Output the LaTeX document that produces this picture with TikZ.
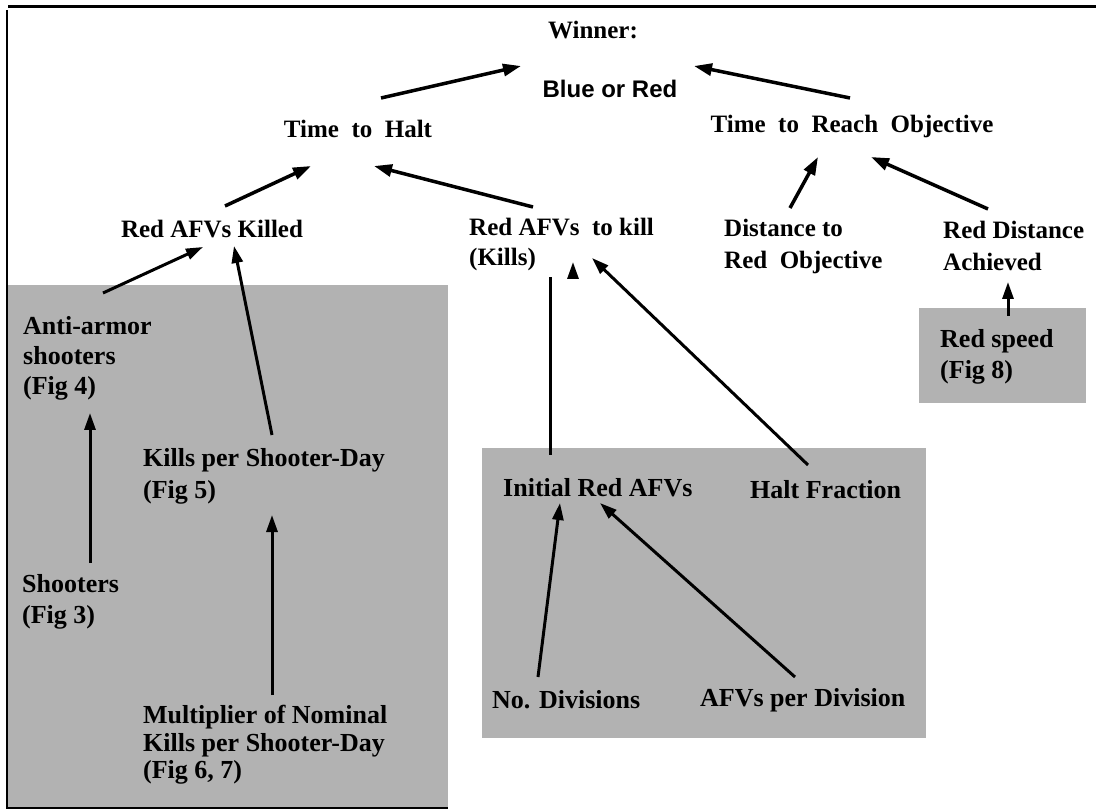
\documentclass[tikz,border=0pt]{standalone}
\usepackage{fontspec}
\setmainfont{Liberation Serif}
\newfontfamily\arialf{Liberation Sans}
\usetikzlibrary{arrows.meta}
\begin{document}
\begin{tikzpicture}[x=1pt,y=-1pt,
  lbl/.style={font=\bfseries\fontsize{25}{30}\selectfont, inner sep=0pt, align=left},
  gl/.style={font=\bfseries\fontsize{26}{30}\selectfont, inner sep=0pt, align=left, anchor=west},
  arr/.style={line width=3.5pt, -{Triangle[length=18pt,width=12pt]}},
  thinarr/.style={line width=3pt, -{Triangle[length=17pt,width=11pt]}},
  shadebox/.style={fill=black!30, draw=none}]
\useasboundingbox (0,0) rectangle (1096,810);
% frame
\draw[line width=3pt] (8,6.5) -- (1096,6.5);
\draw[line width=2pt] (7,10) -- (7,808) -- (448,808);
% shaded areas
\fill[shadebox] (8,285) rectangle (448,807);
\fill[shadebox] (482,448) rectangle (926,738);
\fill[shadebox] (919,308) rectangle (1086,403);
% top labels
\node[lbl] (win) at (593,30) {Winner:};
\node[font=\arialf\bfseries\fontsize{24}{28}\selectfont, inner sep=0pt] (bor) at (610,89) {Blue or Red};
\node[lbl] (tth) at (358,129) {Time\ \ to\ \ Halt};
\node[lbl] (tro) at (852,126) {Time\ \ to\ \ Reach\ \ Objective};
\node[lbl] (rak) at (212,229) {Red AFVs Killed};
\node[lbl, anchor=west] (rtk) at (469,244) {Red AFVs\ \ to kill\\(Kills)};
\node[lbl, anchor=west, font=\bfseries\fontsize{25}{32}\selectfont] (dro) at (724,246) {Distance to\\Red\ \ Objective};
\node[lbl, anchor=west, font=\bfseries\fontsize{25}{32}\selectfont] (rda) at (943,246) {Red Distance\\Achieved};
% shaded labels
\node[gl] (aas) at (23,358) {Anti-armor\\shooters\\(Fig 4)};
\node[gl, font=\bfseries\fontsize{26}{31}\selectfont] (sho) at (22,602) {Shooters\\(Fig 3)};
\node[gl, font=\bfseries\fontsize{26}{32}\selectfont] (kps) at (143,476) {Kills per Shooter-Day\\(Fig 5)};
\node[gl, font=\bfseries\fontsize{26}{27.5}\selectfont] (mul) at (143,745) {Multiplier of Nominal\\Kills per Shooter-Day\\(Fig 6, 7)};
\node[gl] (ira) at (503,488) {Initial Red AFVs};
\node[gl] (hfr) at (750,490) {Halt Fraction};
\node[gl] (ndv) at (492,700) {No. Divisions};
\node[gl] (apd) at (700,700) {AFVs per Division};
\node[gl, font=\bfseries\fontsize{26}{31}\selectfont] (rsp) at (940,357) {Red speed\\(Fig 8)};
% connector end points
\coordinate (tthN) at (381,98);   \coordinate (winL) at (521,66);
\coordinate (troN) at (850,98);   \coordinate (winR) at (694,66);
\coordinate (rakN) at (225,206);  \coordinate (tthL) at (311,166);
\coordinate (rtkN) at (533,207);  \coordinate (tthR) at (374,166);
\coordinate (droN) at (790,208);  \coordinate (troL) at (818,157);
\coordinate (rdaN) at (988,209);  \coordinate (troR) at (871,157);
\coordinate (aasN) at (103,293);  \coordinate (rakL) at (203,247);
\coordinate (kpsN) at (272,435);  \coordinate (rakR) at (234,246);
\coordinate (shoN) at (90,563);   \coordinate (aasS) at (90,413);
\coordinate (mulN) at (272,695);  \coordinate (kpsS) at (272,515);
\coordinate (iraN) at (550,455);  \coordinate (rtkS) at (550,277);
\coordinate (rtkHb) at (573,278); \coordinate (rtkH) at (573,262);
\coordinate (hfrN) at (808,465);  \coordinate (rtkR) at (592,258);
\coordinate (ndvN) at (538,677);  \coordinate (iraS) at (560,503);
\coordinate (apdN) at (795,677);  \coordinate (iraR) at (600,503);
\coordinate (rspN) at (1008,316); \coordinate (rdaS) at (1008,282);
% connectors
\draw[arr] (tthN) -- (winL);
\draw[arr] (troN) -- (winR);
\draw[arr] (rakN) -- (tthL);
\draw[arr] (rtkN) -- (tthR);
\draw[arr] (droN) -- (troL);
\draw[arr] (rdaN) -- (troR);
\draw[thinarr] (aasN) -- (rakL);
\draw[thinarr] (kpsN) -- (rakR);
\draw[thinarr] (shoN) -- (aasS);
\draw[thinarr] (mulN) -- (kpsS);
\draw[line width=3pt] (iraN) -- (rtkS);
\draw[thinarr] (rtkHb) -- (rtkH);
\draw[thinarr] (hfrN) -- (rtkR);
\draw[thinarr] (ndvN) -- (iraS);
\draw[thinarr] (apdN) -- (iraR);
\draw[thinarr] (rspN) -- (rdaS);
\end{tikzpicture}
\end{document}
